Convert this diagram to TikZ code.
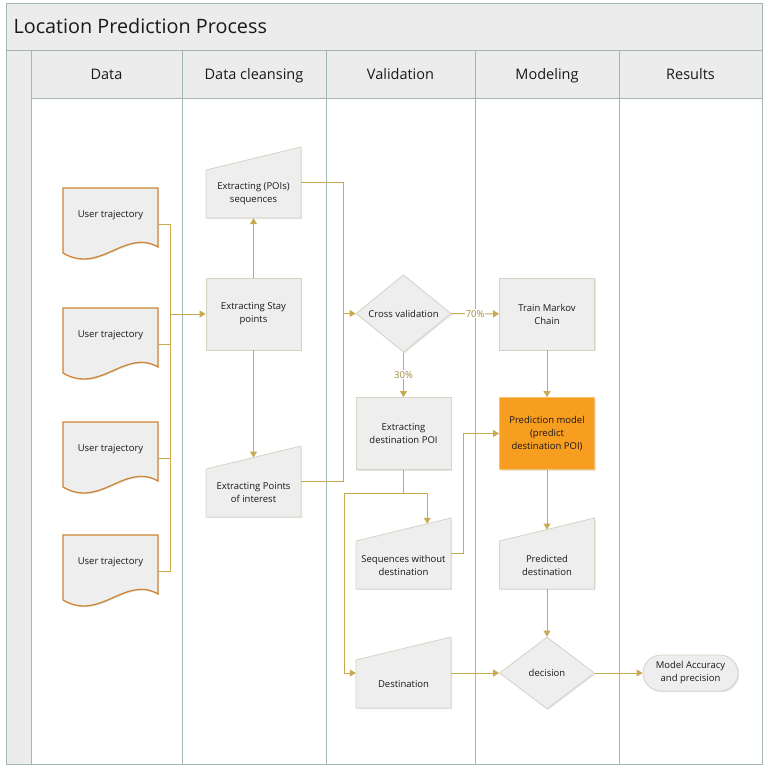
\documentclass[tikz,border=0pt]{standalone}
\usepackage{fontspec}
\setmainfont{Open Sans}
\usetikzlibrary{arrows.meta,positioning,calc,shapes.geometric,shadows}
\definecolor{lanecol}{RGB}{164,182,177}
\definecolor{bandcol}{RGB}{236,236,236}
\definecolor{boxfill}{RGB}{238,238,238}
\definecolor{boxline}{RGB}{214,210,196}
\definecolor{docline}{RGB}{204,134,52}
\definecolor{flowcol}{RGB}{201,170,82}
\definecolor{flowtext}{RGB}{160,138,66}
\definecolor{modelfill}{RGB}{247,157,32}
\definecolor{modelline}{RGB}{245,192,112}
\definecolor{inkcol}{RGB}{25,25,25}
\tikzset{
  >={Triangle[length=6pt,width=7pt]},
  lane/.style={draw=lanecol,line width=1pt},
  box/.style={draw=boxline,fill=boxfill,line width=0.8pt,
    drop shadow={shadow xshift=1.2pt,shadow yshift=-1.2pt,opacity=0.2}},
  docbox/.style={box,draw=docline,line width=1.3pt},
  boxtext/.style={font=\fontsize{9.5}{13}\selectfont,text=inkcol,align=center,inner sep=0pt},
  procbox/.style={box,boxtext,minimum width=95pt,minimum height=72pt},
  modelbox/.style={fill=modelfill,draw=modelline},
  decide/.style={box,boxtext,diamond,minimum width=95pt,minimum height=72pt},
  endbox/.style={box,boxtext,rounded corners=18pt,minimum width=95pt,minimum height=36pt},
  flow/.style={draw=flowcol,line width=1pt},
  pct/.style={font=\fontsize{9.5}{11}\selectfont,text=flowtext,fill=white,inner sep=1pt},
  head/.style={font=\fontsize{14.5}{16}\selectfont,text=inkcol,anchor=base}
}
% document with wavy bottom: name, top y, text
\newcommand\userdoc[3]{%
  \filldraw[docbox] (63,#2) -- (158,#2) -- (158,#2+59)
    .. controls (125,#2+40) and (100,#2+87) .. (63,#2+65) -- cycle;
  \node[boxtext,minimum width=95pt,minimum height=55pt] (#1) at (110.5,#2+27.5) {#3};
}
% manual input: name, left x, top y, text
\newcommand\manualin[4]{%
  \filldraw[box] (#2,#3+23) -- (#2+95,#3) -- (#2+95,#3+71) -- (#2,#3+71) -- cycle;
  \coordinate (#1-nw) at (#2,#3+23);
  \coordinate (#1-ne) at (#2+95,#3);
  \node[boxtext,minimum width=95pt,minimum height=48pt] (#1) at (#2+47.5,#3+47) {#4};
}

\begin{document}
\begin{tikzpicture}[x=1pt,y=-1pt]
  \useasboundingbox (0,0) rectangle (768,771);

  % Pool, title and lanes
  \fill[bandcol] (6,3) rectangle (762,98);
  \fill[bandcol] (6,98) rectangle (31,764);
  \draw[lane] (6,3) rectangle (762,764);
  \draw[lane] (6,50) -- (762,50);
  \draw[lane] (31,98) -- (762,98);
  \foreach \x in {31,182,326,475,619}{
    \draw[lane] (\x,50) -- (\x,764);
  }
  \node[anchor=west,font=\fontsize{19.8}{22}\selectfont,text=inkcol] (title) at (10,26) {Location Prediction Process};
  \foreach \x/\t/\n in {106.5/Data/hdata,254/Data cleansing/hclean,400.5/Validation/hvalid,547/Modeling/hmodel,690.5/Results/hresult}{
    \node[head] (\n) at (\x,79) {\t};
  }

  % Data
  \userdoc{doc1}{188}{User trajectory}
  \userdoc{doc2}{308}{User trajectory}
  \userdoc{doc3}{422}{User trajectory}
  \userdoc{doc4}{535}{User trajectory}

  % Data cleansing
  \manualin{poiseq}{206}{147}{Extracting (POIs)\\sequences}
  \node[procbox] (stay) at (253.5,314) {Extracting Stay\\points};
  \manualin{poi}{206}{446}{Extracting Points\\of interest}

  % Validation
  \node[decide] (cross) at (403.5,313.5) {Cross validation};
  \node[procbox] (extdest) at (403.5,433.5) {Extracting\\destination POI};
  \manualin{seqwo}{356}{518}{Sequences without\\destination}
  \manualin{dest}{356}{637}{Destination}

  % Modeling
  \node[procbox] (markov) at (547,314) {Train Markov\\Chain};
  \node[procbox,modelbox] (model) at (547,433.5) {Prediction model\\(predict\\destination POI)};
  \manualin{preddest}{499.5}{518}{Predicted\\destination}
  \node[decide] (decision) at (547,673) {decision};

  % Results
  \node[endbox] (result) at (690.5,673) {Model Accuracy\\and precision};

  % Connectors
  \coordinate (bus) at (170,314);
  \foreach \d in {doc1,doc2,doc3,doc4}{
    \draw[flow] ([yshift=-8.5pt]\d.east) -| (bus);
  }
  \draw[flow,->] (bus) -- (stay);
  \draw[flow,->] (stay) -- (poiseq);
  \draw[flow,->] (stay) -- ($(poi-nw)!0.5!(poi-ne)$);
  \coordinate (vbus) at (343,313.5);
  \draw[flow] ([yshift=12pt]poiseq.east) -| (vbus);
  \draw[flow] ([yshift=12pt]poi.east) -| (vbus);
  \draw[flow,->] (vbus) -- (cross);
  \draw[flow,->] (cross) -- node[pct] {70\%} (markov);
  \draw[flow,->] (cross) -- node[pct] {30\%} (extdest);
  \draw[flow,->] (markov) -- (model);
  \coordinate (split) at (403.5,493);
  \coordinate (leftbus) at (344,493);
  \draw[flow] (extdest) -- (split);
  \draw[flow,->] (split) -| ($(seqwo-nw)!0.75!(seqwo-ne)$);
  \draw[flow,->] (split) -- (leftbus) |- (decision.west -| dest.west);
  \coordinate (seqturn) at (463,433.5);
  \draw[flow,->] ([yshift=12pt]seqwo.east) -| (seqturn) -- (model);
  \draw[flow,->] (model) -- ($(preddest-nw)!0.5!(preddest-ne)$);
  \draw[flow,->] (preddest) -- (decision);
  \draw[flow,->] (decision.west -| dest.east) -- (decision);
  \draw[flow,->] (decision) -- (result);
\end{tikzpicture}
\end{document}
